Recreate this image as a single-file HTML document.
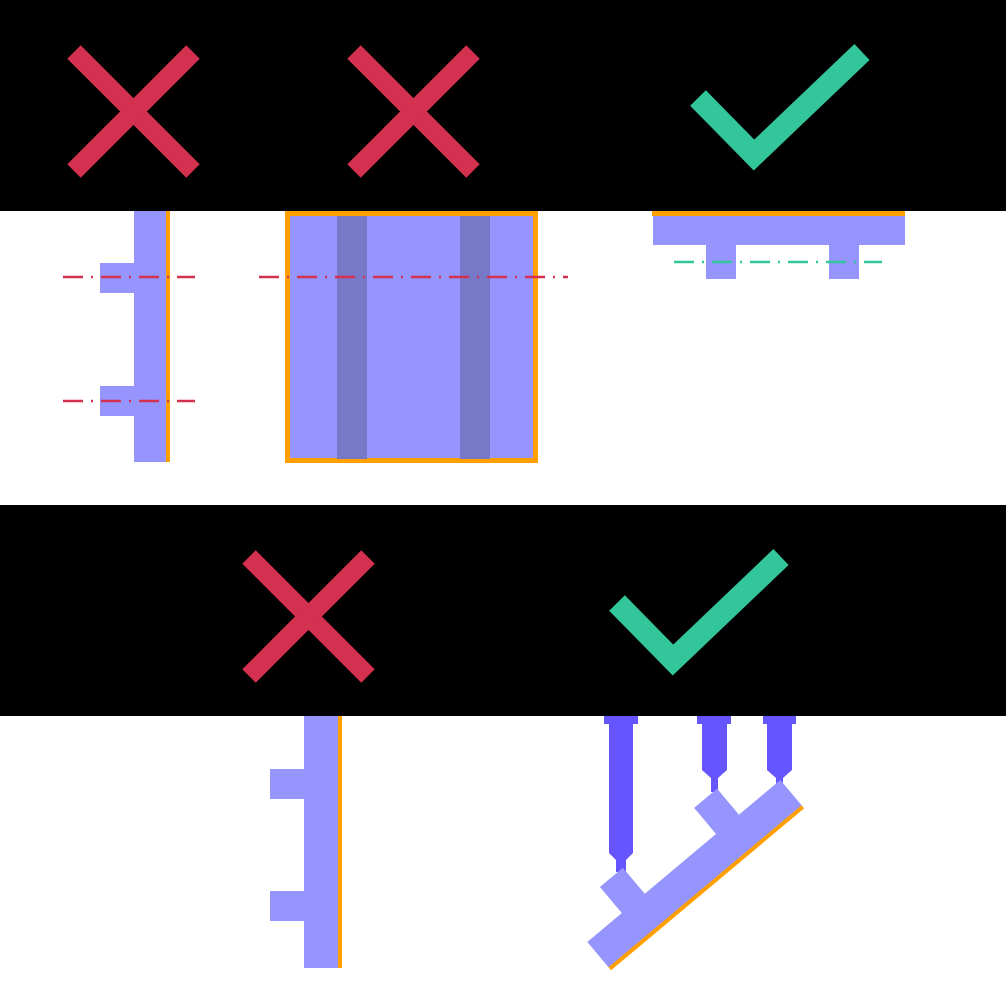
<!DOCTYPE html>
<html><head><style>html,body{margin:0;padding:0;background:#fff}svg{display:block}</style></head>
<body>
<svg width="1006" height="1000" viewBox="0 0 1006 1000" xmlns="http://www.w3.org/2000/svg">
<rect x="0" y="0" width="1006" height="211" fill="#000"/>
<rect x="0" y="505" width="1006" height="211" fill="#000"/>
<g stroke="#d4304f" stroke-width="19" stroke-linecap="butt">
<line x1="74" y1="52" x2="193" y2="171"/><line x1="193" y1="52" x2="74" y2="171"/>
<line x1="354" y1="52" x2="473" y2="171"/><line x1="473" y1="52" x2="354" y2="171"/>
<line x1="249" y1="557" x2="368" y2="676"/><line x1="368" y1="557" x2="249" y2="676"/>
</g>
<g stroke="#33c69a" stroke-width="22" fill="none" stroke-linejoin="miter" stroke-miterlimit="10">
<polyline points="698,98 754,155 862,52"/>
<polyline points="617,603 673,660 781,557"/>
</g>
<g fill="#9595fd">
<rect x="134" y="211" width="32" height="251"/>
<rect x="100" y="263" width="34" height="30"/>
<rect x="100" y="386" width="34" height="30"/>
</g>
<rect x="166" y="211" width="4" height="251" fill="#ffa000"/>
<g stroke="#d4304f" stroke-width="2.5" stroke-dasharray="20 8 2 8">
<line x1="63" y1="277" x2="195" y2="277"/>
<line x1="63" y1="401" x2="195" y2="401"/>
</g>
<rect x="287.5" y="213.5" width="248" height="247" fill="#9595fd" stroke="#ffa000" stroke-width="5"/>
<rect x="337" y="216" width="30" height="243" fill="#7878c8"/>
<rect x="460" y="216" width="30" height="243" fill="#7878c8"/>
<line x1="259" y1="277" x2="568" y2="277" stroke="#d4304f" stroke-width="2.5" stroke-dasharray="20 8 2 8"/>
<rect x="652" y="211" width="253" height="5" fill="#ffa000"/>
<rect x="653" y="216" width="252" height="29" fill="#9595fd"/>
<rect x="706" y="245" width="30" height="34" fill="#9595fd"/>
<rect x="829" y="245" width="30" height="34" fill="#9595fd"/>
<line x1="674" y1="262" x2="882" y2="262" stroke="#33c69a" stroke-width="2.5" stroke-dasharray="20 8 2 8"/>
<g fill="#9595fd">
<rect x="304" y="716" width="34" height="252"/>
<rect x="270" y="769" width="34" height="30"/>
<rect x="270" y="891" width="34" height="30"/>
</g>
<rect x="338" y="716" width="4" height="252" fill="#ffa000"/>
<g fill="#6655ff">
<rect x="604" y="716" width="34" height="8"/>
<polygon points="609,724 633,724 633,853 626,860 626,872 616,872 616,860 609,853"/>
<rect x="697" y="716" width="34" height="8"/>
<polygon points="702,724 727,724 727,770 718,778 718,792 711,792 711,778 702,770"/>
<rect x="763" y="716" width="33" height="8"/>
<polygon points="767,724 792,724 792,770 783,778 783,785 776,785 776,778 767,770"/>
</g>
<g transform="translate(694.75,874) rotate(-40)">
<rect x="-126" y="-17" width="252" height="34" fill="#9595fd"/>
<rect x="-126" y="16" width="252" height="4" fill="#ffa000"/>
<rect x="-81" y="-51" width="30" height="35" fill="#9595fd"/>
<rect x="42" y="-51" width="30" height="35" fill="#9595fd"/>
</g>
</svg>
</body></html>
